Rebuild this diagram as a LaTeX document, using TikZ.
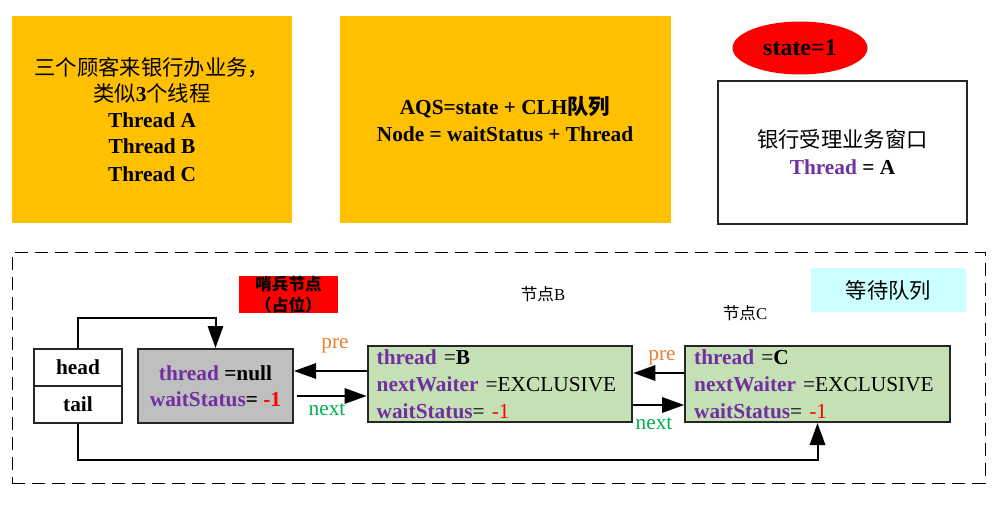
\documentclass[tikz,border=0pt]{standalone}
\usepackage{fontspec}
\setmainfont{Liberation Serif}
\newfontfamily\cjk{Noto Sans CJK SC}
\usetikzlibrary{arrows.meta,shapes.geometric,calc}

\definecolor{amber}{HTML}{FFC000}
\definecolor{purp}{HTML}{7030A0}
\definecolor{orng}{HTML}{ED7D31}
\definecolor{grn}{HTML}{00B050}
\definecolor{sage}{HTML}{C5E0B4}
\definecolor{greyfill}{HTML}{BFBFBF}
\definecolor{aqua}{HTML}{CCFFFF}
\definecolor{edgegrey}{HTML}{262626}

% field name in purple bold, value in red
\newcommand{\fld}[1]{\textcolor{purp}{\textbf{#1}}}
\newcommand{\redv}[1]{\textcolor{red}{#1}}

\tikzset{
  panel/.style={fill=amber, inner sep=0pt, align=center,
    font=\bfseries\fontsize{16}{19.5}\selectfont},
  framebox/.style={draw=edgegrey, line width=1.5pt, inner sep=0pt, align=center},
  fieldbox/.style={framebox, fill=sage, minimum width=198pt, minimum height=57pt,
    text width=185pt, inner xsep=6.75pt, align=left,
    font=\fontsize{16}{20.25}\selectfont},
  ptrcell/.style={framebox, minimum width=66pt, minimum height=27.75pt,
    font=\bfseries\fontsize{16}{19}\selectfont},
  arr/.style={line width=1.5pt, -{Triangle[length=16.5pt,width=11.5pt]}},
  link/.style={font=\fontsize{16}{19}\selectfont},
  nodecaption/.style={font=\fontsize{12.5}{15}\selectfont}
}

\begin{document}
\begin{tikzpicture}[x=0.75pt, y=-0.75pt]
\path[use as bounding box] (0,0) rectangle (1004,506);

% --- top row ---
\node[panel, minimum width=210pt, minimum height=155.25pt] (customers) at (152,119.5)
  {{\cjk\mdseries 三个顾客来银行办业务，}\\{\cjk\mdseries 类似}3{\cjk\mdseries 个线程}\\Thread A\\Thread B\\[2pt]Thread C};

\node[panel, minimum width=248.25pt, minimum height=155.25pt,
  font=\bfseries\fontsize{16}{20.25}\selectfont] (aqs) at (505,119.5)
  {AQS=state + CLH{\cjk\bfseries 队列}\\Node = waitStatus + Thread};

\node[ellipse, fill=red, inner sep=0pt, minimum width=101.25pt, minimum height=39.75pt,
  font=\bfseries\fontsize{18}{20}\selectfont] (state) at (800,48) {state=1};

\node[framebox, minimum width=186.75pt, minimum height=107.25pt,
  font=\fontsize{16}{20.25}\selectfont] (window) at (842.5,152.5)
  {{\cjk 银行受理业务窗口}\\\fld{Thread} \textbf{= A}};

% --- waiting queue ---
\node[draw, dash pattern=on 10pt off 5pt, line width=0.75pt, minimum width=729.75pt,
  minimum height=172.5pt, inner sep=0pt] (queue) at (498.5,368) {};

\node[fill=aqua, minimum width=116.25pt, minimum height=33pt, inner sep=0pt,
  font=\cjk\fontsize{16}{19}\selectfont] (qlabel) at (888.5,290) {等待队列};

\node[fill=red, minimum width=74.25pt, minimum height=27.75pt, inner sep=0pt, align=center,
  font=\cjk\bfseries\fontsize{12.5}{15.75}\selectfont] (sentlabel) at (288.5,294.5)
  {哨兵节点\\（占位）};

\node[ptrcell] (head) at (78,367.5) {head};
\node[ptrcell] (tail) at (78,404.5) {tail};

\node[framebox, fill=greyfill, minimum width=116.25pt, minimum height=55.5pt,
  font=\fontsize{16}{19.5}\selectfont] (sent) at (215.5,386)
  {\fld{thread} \textbf{=null}\\\fld{waitStatus}\textbf{= }\redv{\textbf{-1}}};

\node[fieldbox] (nodeB) at (500,384)
  {\fld{thread} =\textbf{B}\\\fld{nextWaiter} =EXCLUSIVE\\\fld{waitStatus}= \redv{-1}};
\node[fieldbox] (nodeC) at (817.5,384)
  {\fld{thread} =\textbf{C}\\\fld{nextWaiter} =EXCLUSIVE\\\fld{waitStatus}= \redv{-1}};

\node[nodecaption] (capB) at (543,294) {{\cjk 节点}B};
\node[nodecaption] (capC) at (745,313) {{\cjk 节点}C};

% head / tail pointers
\draw[arr] (head.north) -- ++(0,-30) -| (sent.north);
\draw[arr] (tail.south) -- ++(0,36) -| (nodeC.south);

% pre / next links
\coordinate (preB) at ($(nodeB.west)+(0,-13)$);
\coordinate (nextS) at ($(sent.east)+(3,10)$);
\coordinate (preC) at ($(nodeC.west)+(0,-11)$);
\coordinate (nextB) at ($(nodeB.east)+(0,21)$);
\draw[arr] (preB) -- (preB -| sent.east);
\draw[arr] (nextS) -- (nextS -| nodeB.west);
\draw[arr] (preC) -- (preC -| nodeB.east);
\draw[arr] (nextB) -- (nextB -| nodeC.west);

\node[link, text=orng] (pre1) at (335,346) {pre};
\node[link, text=grn] (next1) at (327,410) {next};
\node[link, text=orng] (pre2) at (662,358) {pre};
\node[link, text=grn] (next2) at (654,424) {next};
\end{tikzpicture}
\end{document}
